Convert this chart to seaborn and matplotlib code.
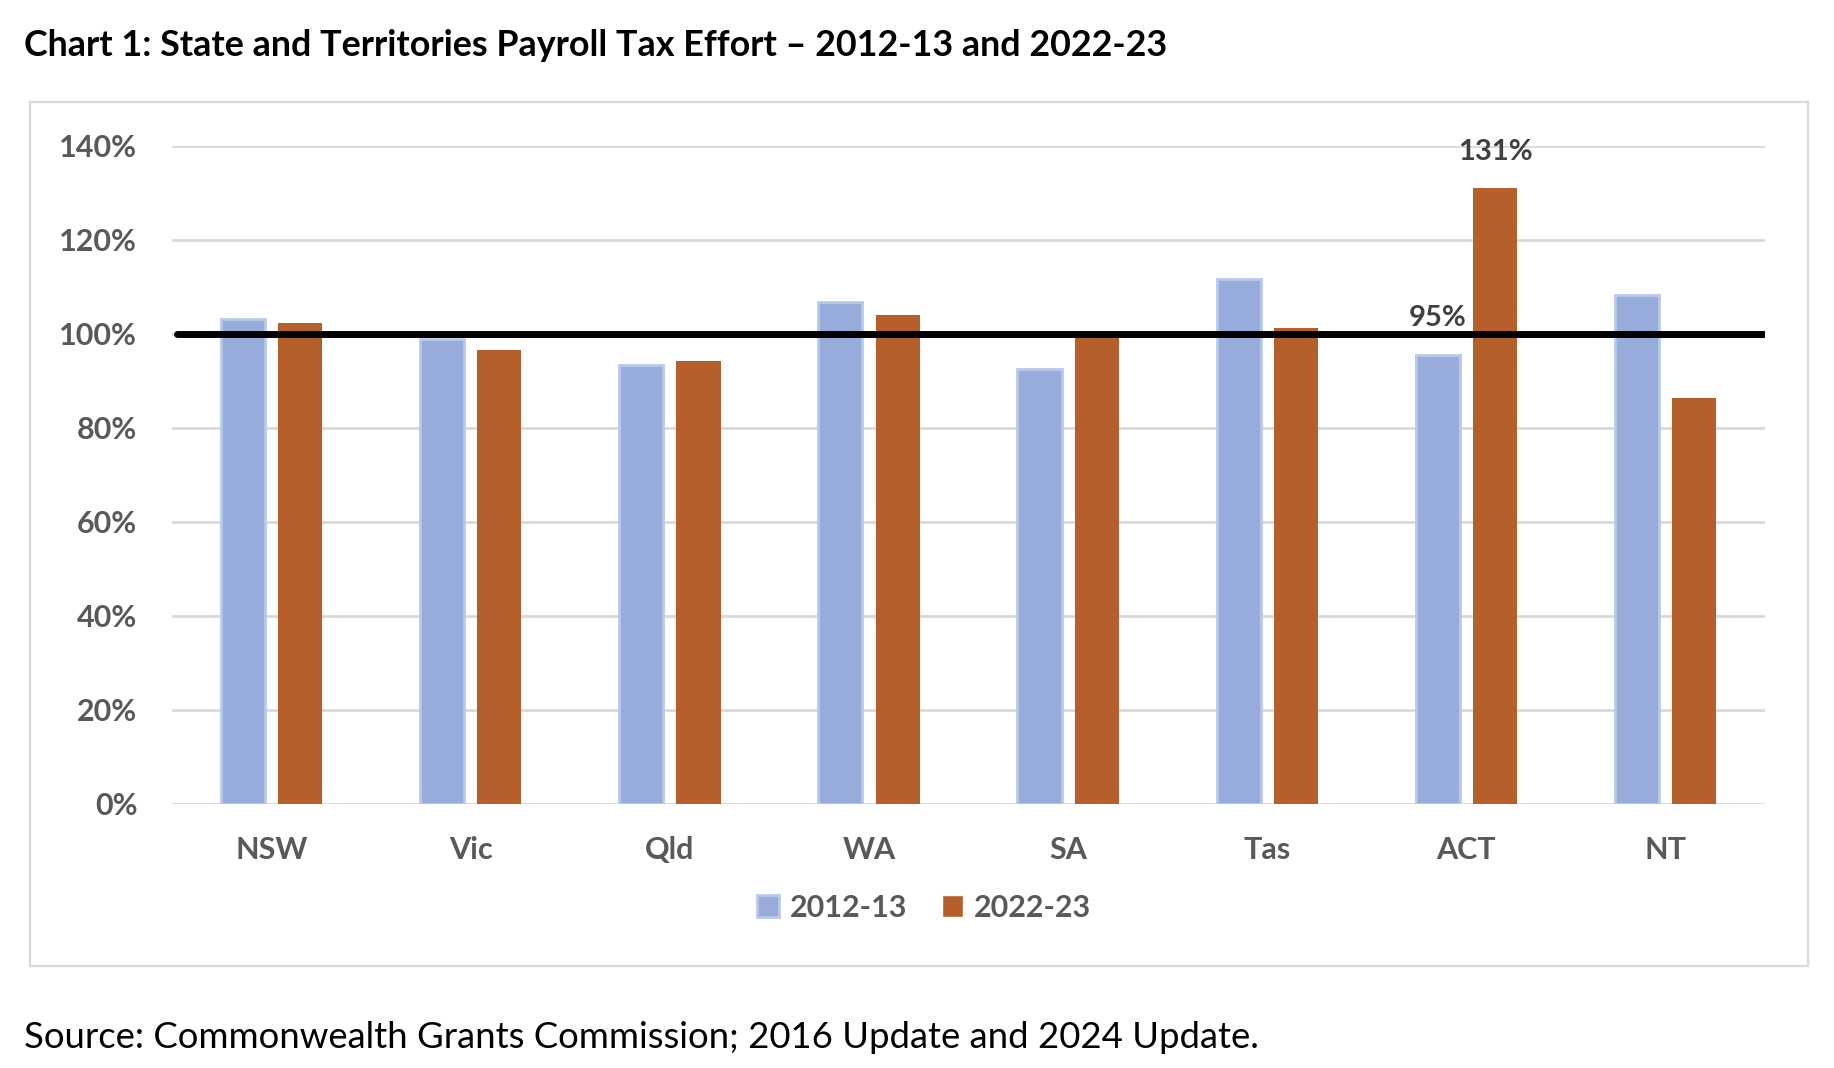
"""Payroll tax effort by state, 2012-13 vs 2022-23 (grouped bars)."""

import matplotlib.pyplot as plt
import pandas as pd
import seaborn as sns
from matplotlib.patches import Rectangle
from matplotlib.ticker import FuncFormatter

states = ["NSW", "Vic", "Qld", "WA", "SA", "Tas", "ACT", "NT"]
periods = ["2012-13", "2022-23"]
effort_2012_13 = [103.2, 98.9, 93.3, 106.8, 92.6, 111.6, 95.6, 108.3]
effort_2022_23 = [102.3, 96.7, 94.3, 104.1, 99.5, 101.2, 131.0, 86.4]
labels_2012_13 = ["", "", "", "", "", "", "95%", ""]
labels_2022_23 = ["", "", "", "", "", "", "131%", ""]
yticks = [0, 20, 40, 60, 80, 100, 120, 140]
benchmark = 100

title = "Chart 1: State and Territories Payroll Tax Effort \u2013 2012-13 and 2022-23"
source = "Source: Commonwealth Grants Commission; 2016 Update and 2024 Update."

BLUE = "#97ACDA"
BLUE_EDGE = "#B8C9EA"
ORANGE = "#B5602A"
GRID = "#D9D9D9"
TICK_GREY = "#595959"
LABEL_GREY = "#404040"

df = pd.DataFrame({
  "state": states * 2,
  "period": [periods[0]] * len(states) + [periods[1]] * len(states),
  "effort": effort_2012_13 + effort_2022_23,
})

sns.set_theme(style="white")
plt.rcParams["font.family"] = ["Lato", "DejaVu Sans"]

fig = plt.figure(figsize=(18.34, 10.68), dpi=100)
ax = fig.add_axes([0.0938, 0.2472, 0.8686, 0.6161])

sns.barplot(
  data=df, x="state", y="effort", hue="period",
  palette=[BLUE, ORANGE], width=0.575, gap=0.23,
  saturation=1, ax=ax, zorder=2,
)

for bar in ax.containers[0]:
  bar.set_edgecolor(BLUE_EDGE)
  bar.set_linewidth(2)
for bar in ax.containers[1]:
  bar.set_linewidth(0)

ax.axhline(benchmark, xmin=0.003, xmax=1, color="black", lw=5, zorder=4)

ax.bar_label(ax.containers[0], labels=labels_2012_13, padding=17,
             fontsize=21, fontweight="bold", color=LABEL_GREY)
ax.bar_label(ax.containers[1], labels=labels_2022_23, padding=17,
             fontsize=21, fontweight="bold", color=LABEL_GREY)

ax.set_xlim(-0.5, len(states) - 0.5)
ax.set_ylim(0, 140)
ax.set_yticks(yticks)
ax.yaxis.set_major_formatter(FuncFormatter(lambda v, _: f"{v:.0f}%"))
ax.yaxis.grid(True, color=GRID, lw=2)
ax.set_axisbelow(True)
sns.despine(ax=ax, left=True, bottom=True)
ax.set_xlabel("")
ax.set_ylabel("")
ax.tick_params(axis="y", length=0, pad=25, labelsize=22, labelcolor=TICK_GREY)
ax.tick_params(axis="x", length=0, pad=23, labelsize=22, labelcolor=TICK_GREY)
for lbl in ax.get_xticklabels() + ax.get_yticklabels():
  lbl.set_fontweight("bold")

handles, names = ax.get_legend_handles_labels()
ax.get_legend().remove()
handles[0].set_edgecolor(BLUE_EDGE)
handles[0].set_linewidth(2)
leg = fig.legend(
  handles, names, loc="center", bbox_to_anchor=(0.504, 0.150), ncol=2,
  frameon=False, handlelength=0.7, handleheight=0.7, handletextpad=0.35,
  columnspacing=1.15, prop={"size": 22, "weight": "bold"},
)
for txt in leg.get_texts():
  txt.set_color(TICK_GREY)

fig.patches.append(Rectangle(
  (30 / 1834, 1 - 966 / 1068), 1778 / 1834, 864 / 1068,
  transform=fig.transFigure, fill=False, edgecolor=GRID, lw=1.6,
))

fig.text(24 / 1834, 1 - 45 / 1068, title, fontsize=25.8, fontweight="bold",
         color="black", va="center", ha="left")
fig.text(24 / 1834, 1 - 1037 / 1068, source, fontsize=26.3,
         color="black", va="center", ha="left")

fig.savefig("out.png", dpi=100, facecolor="white")
